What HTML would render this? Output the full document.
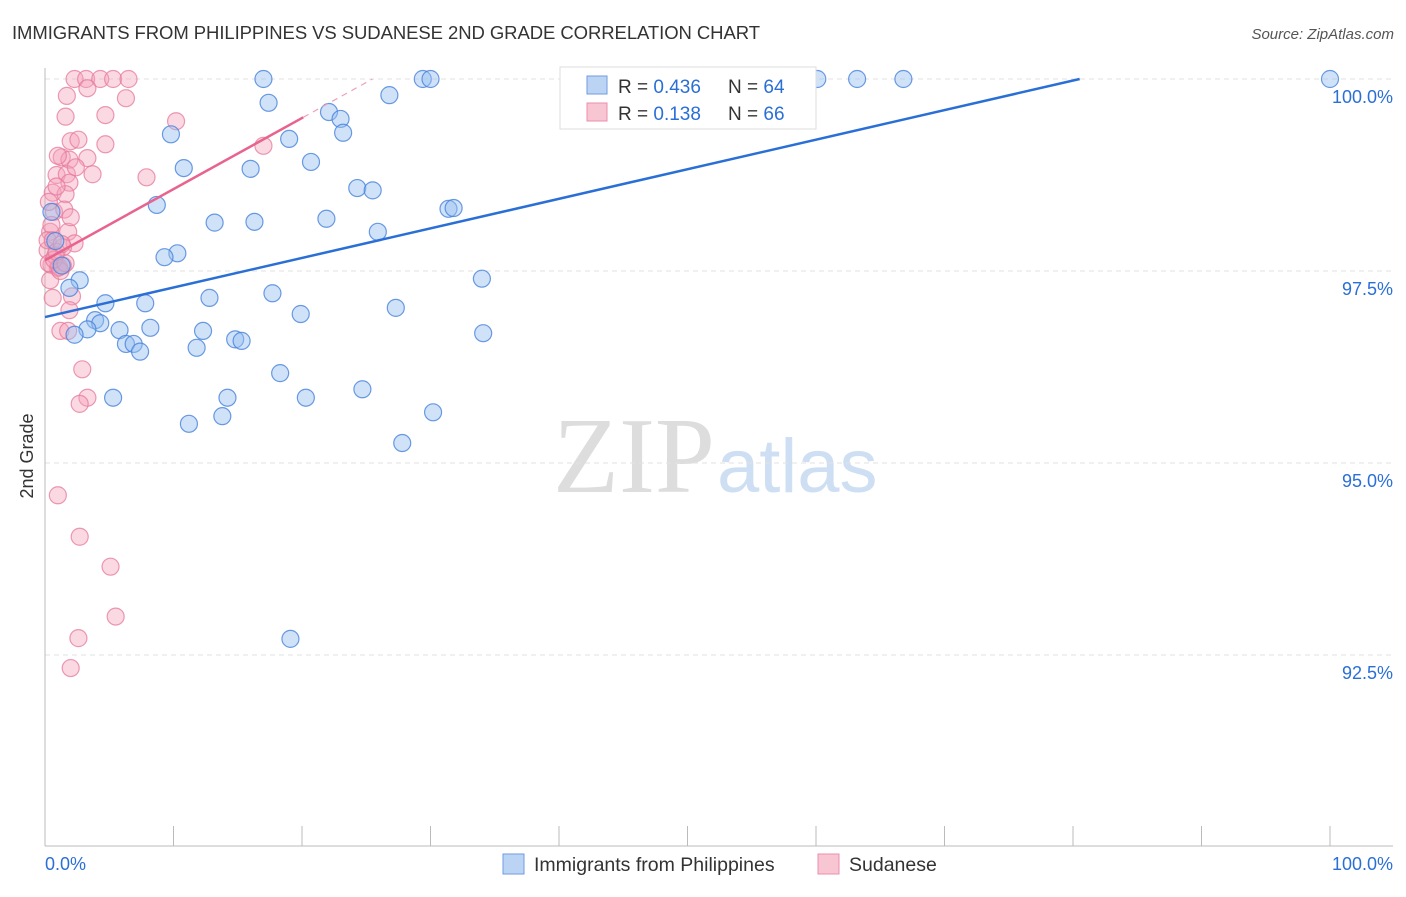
<!DOCTYPE html>
<html><head><meta charset="utf-8"><style>
body{margin:0;background:#fff;font-family:"Liberation Sans",sans-serif;}
</style></head><body>
<svg id="c" width="1406" height="892" xmlns="http://www.w3.org/2000/svg">
<text x="12" y="39" font-size="18.5" fill="#333" textLength="748">IMMIGRANTS FROM PHILIPPINES VS SUDANESE 2ND GRADE CORRELATION CHART</text>
<text x="1394" y="39" font-size="15" fill="#555" font-style="italic" text-anchor="end">Source: ZipAtlas.com</text>
<text x="33" y="456" font-size="18" fill="#333" transform="rotate(-90 33 456)" text-anchor="middle">2nd Grade</text>
<text x="715" y="492" font-size="108" fill="#ddd" text-anchor="end" font-family="Liberation Serif,serif">ZIP</text>
<text x="717" y="492" font-size="76" fill="#cfdff3">atlas</text>
<g id="grid"></g><g id="pts"></g><g id="lines"></g>
<g>
<rect x="560" y="67" width="256" height="62" fill="#fff" stroke="#ddd"/>
<rect x="587" y="76" width="20" height="18" fill="#bcd4f3" stroke="#6f9be0"/>
<rect x="587" y="103" width="20" height="18" fill="#f8c5d3" stroke="#ea8fac"/>
<text x="618" y="93" font-size="19" fill="#333">R = <tspan fill="#2a6fd6">0.436</tspan><tspan x="728">N = </tspan><tspan fill="#2a6fd6">64</tspan></text>
<text x="618" y="120" font-size="19" fill="#333">R = <tspan fill="#2a6fd6"> 0.138</tspan><tspan x="728">N = </tspan><tspan fill="#2a6fd6">66</tspan></text>
</g>
<g>
<rect x="503" y="854" width="21" height="20" fill="#bcd4f3" stroke="#6f9be0"/>
<text x="534" y="871" font-size="19.5" fill="#333">Immigrants from Philippines</text>
<rect x="818" y="854" width="21" height="20" fill="#f8c5d3" stroke="#ea8fac"/>
<text x="849" y="871" font-size="19.5" fill="#333">Sudanese</text>
</g>
</svg>
<script>
const blueX=[17.0,29.4,30.0,60.1,63.2,66.8,100,17.4,26.8,22.1,23.0,23.2,9.8,19.0,20.7,10.8,16.0,24.3,25.5,8.7,31.4,31.8,13.2,16.3,21.9,25.9,10.3,9.3,0.5,0.8,1.3,2.7,1.9,34.0,12.8,17.7,4.7,7.8,27.3,19.9,3.9,4.3,3.3,5.8,8.2,12.3,2.3,34.1,6.3,6.9,7.4,11.8,14.8,15.3,18.3,5.3,14.2,20.3,24.7,11.2,13.8,30.2,27.8,19.1];
const blueY=[100,100,100,100,100,100,100,99.69,99.79,99.57,99.48,99.30,99.28,99.22,98.92,98.84,98.83,98.58,98.55,98.36,98.31,98.32,98.13,98.14,98.18,98.01,97.73,97.68,98.27,97.89,97.57,97.38,97.28,97.40,97.15,97.21,97.08,97.08,97.02,96.94,96.86,96.82,96.74,96.73,96.76,96.72,96.67,96.69,96.55,96.55,96.45,96.50,96.61,96.59,96.17,95.85,95.85,95.85,95.96,95.51,95.61,95.66,95.26,92.71];
const pinkX=[2.3,3.2,4.3,5.3,6.5,3.3,1.7,6.3,1.6,4.7,10.2,2.0,2.6,4.7,17.0,1.3,1.9,3.3,0.9,1.7,3.7,7.9,1.9,0.6,1.6,0.7,1.8,2.3,1.4,0.4,0.2,0.5,1.0,1.4,0.4,0.6,2.1,1.9,1.2,1.8,2.9,3.3,2.7,1.0,2.7,5.1,5.5,2.6,2.0,0.3,0.8,1.1,0.5,1.5,0.9,0.2,1.2,0.7,2.4,1.0,0.6,1.6,0.3,0.9,1.3,2.0];
const pinkY=[100,100,100,100,100,99.88,99.78,99.75,99.51,99.53,99.45,99.19,99.21,99.15,99.13,98.98,98.95,98.97,98.75,98.76,98.76,98.72,98.65,98.52,98.50,98.27,98.01,97.86,97.81,98.01,97.77,97.58,97.54,97.57,97.38,97.15,97.17,96.99,96.72,96.72,96.22,95.85,95.77,94.58,94.04,93.65,93.0,92.72,92.33,97.6,97.7,97.55,98.1,98.3,98.6,97.9,97.5,97.65,98.85,99.0,97.9,97.6,98.4,97.75,97.85,98.2];
const yTicks=[100,97.5,95,92.5];
const yTickLabels=["100.0%","97.5%","95.0%","92.5%"];
const blueFit=[96.9,0.0385];
const pinkFit=[97.64,0.0926];
const X=v=>45+v*12.85, Y=v=>79+(100-v)*76.8;
const NS="http://www.w3.org/2000/svg";
function mk(p,t,a){const e=document.createElementNS(NS,t);for(const k in a)e.setAttribute(k,a[k]);p.appendChild(e);return e;}
const grid=document.getElementById('grid');
yTicks.forEach((t,i)=>{
 const l=mk(grid,'line',{x1:45,x2:1393,y1:Y(t),y2:Y(t),stroke:'#e2e2e2','stroke-dasharray':'5,4'});
 
 
 const tx=mk(grid,'text',{x:1393,y:Y(t)+24,'font-size':18,fill:'#2a6fd6','text-anchor':'end'});tx.textContent=yTickLabels[i];
 
 
});
mk(grid,'line',{x1:45,x2:45,y1:68,y2:846,stroke:'#bbb'});
mk(grid,'line',{x1:45,x2:1393,y1:846,y2:846,stroke:'#bbb'});
for(let i=0;i<=10;i++){const x=X(i*10);mk(grid,'line',{x1:x,x2:x,y1:826,y2:846,stroke:'#bbb'});}
let t1=mk(grid,'text',{x:45,y:870,'font-size':18,fill:'#2a6fd6'});t1.textContent='0.0%';

let t2=mk(grid,'text',{x:1393,y:870,'font-size':18,fill:'#2a6fd6','text-anchor':'end'});t2.textContent='100.0%';

const pts=document.getElementById('pts');
pinkX.forEach((x,i)=>{const c=mk(pts,'circle',{cx:X(x),cy:Y(pinkY[i]),r:8.5,fill:'rgba(244,160,186,0.4)',stroke:'rgba(230,120,155,0.75)','stroke-width':1.2});
 
 });
blueX.forEach((x,i)=>{const c=mk(pts,'circle',{cx:X(x),cy:Y(blueY[i]),r:8.5,fill:'rgba(150,190,240,0.45)',stroke:'rgba(70,130,220,0.8)','stroke-width':1.2});
 
 });
const L=document.getElementById('lines');
const bx2=(100-blueFit[0])/blueFit[1];
let bl=mk(L,'line',{x1:X(0),y1:Y(blueFit[0]),x2:X(bx2),y2:Y(100),stroke:'#2a6fd6','stroke-width':2.5});

let pl=mk(L,'line',{x1:X(0),y1:Y(pinkFit[0]),x2:X(20.1),y2:Y(pinkFit[0]+pinkFit[1]*20.1),stroke:'#e8638e','stroke-width':2.5});

const px2=(100-pinkFit[0])/pinkFit[1];
let pd=mk(L,'line',{x1:X(20.1),y1:Y(pinkFit[0]+pinkFit[1]*20.1),x2:X(px2),y2:Y(100),stroke:'#f0a0b8','stroke-width':1.2,'stroke-dasharray':'6,5'});

</script>
</body></html>
